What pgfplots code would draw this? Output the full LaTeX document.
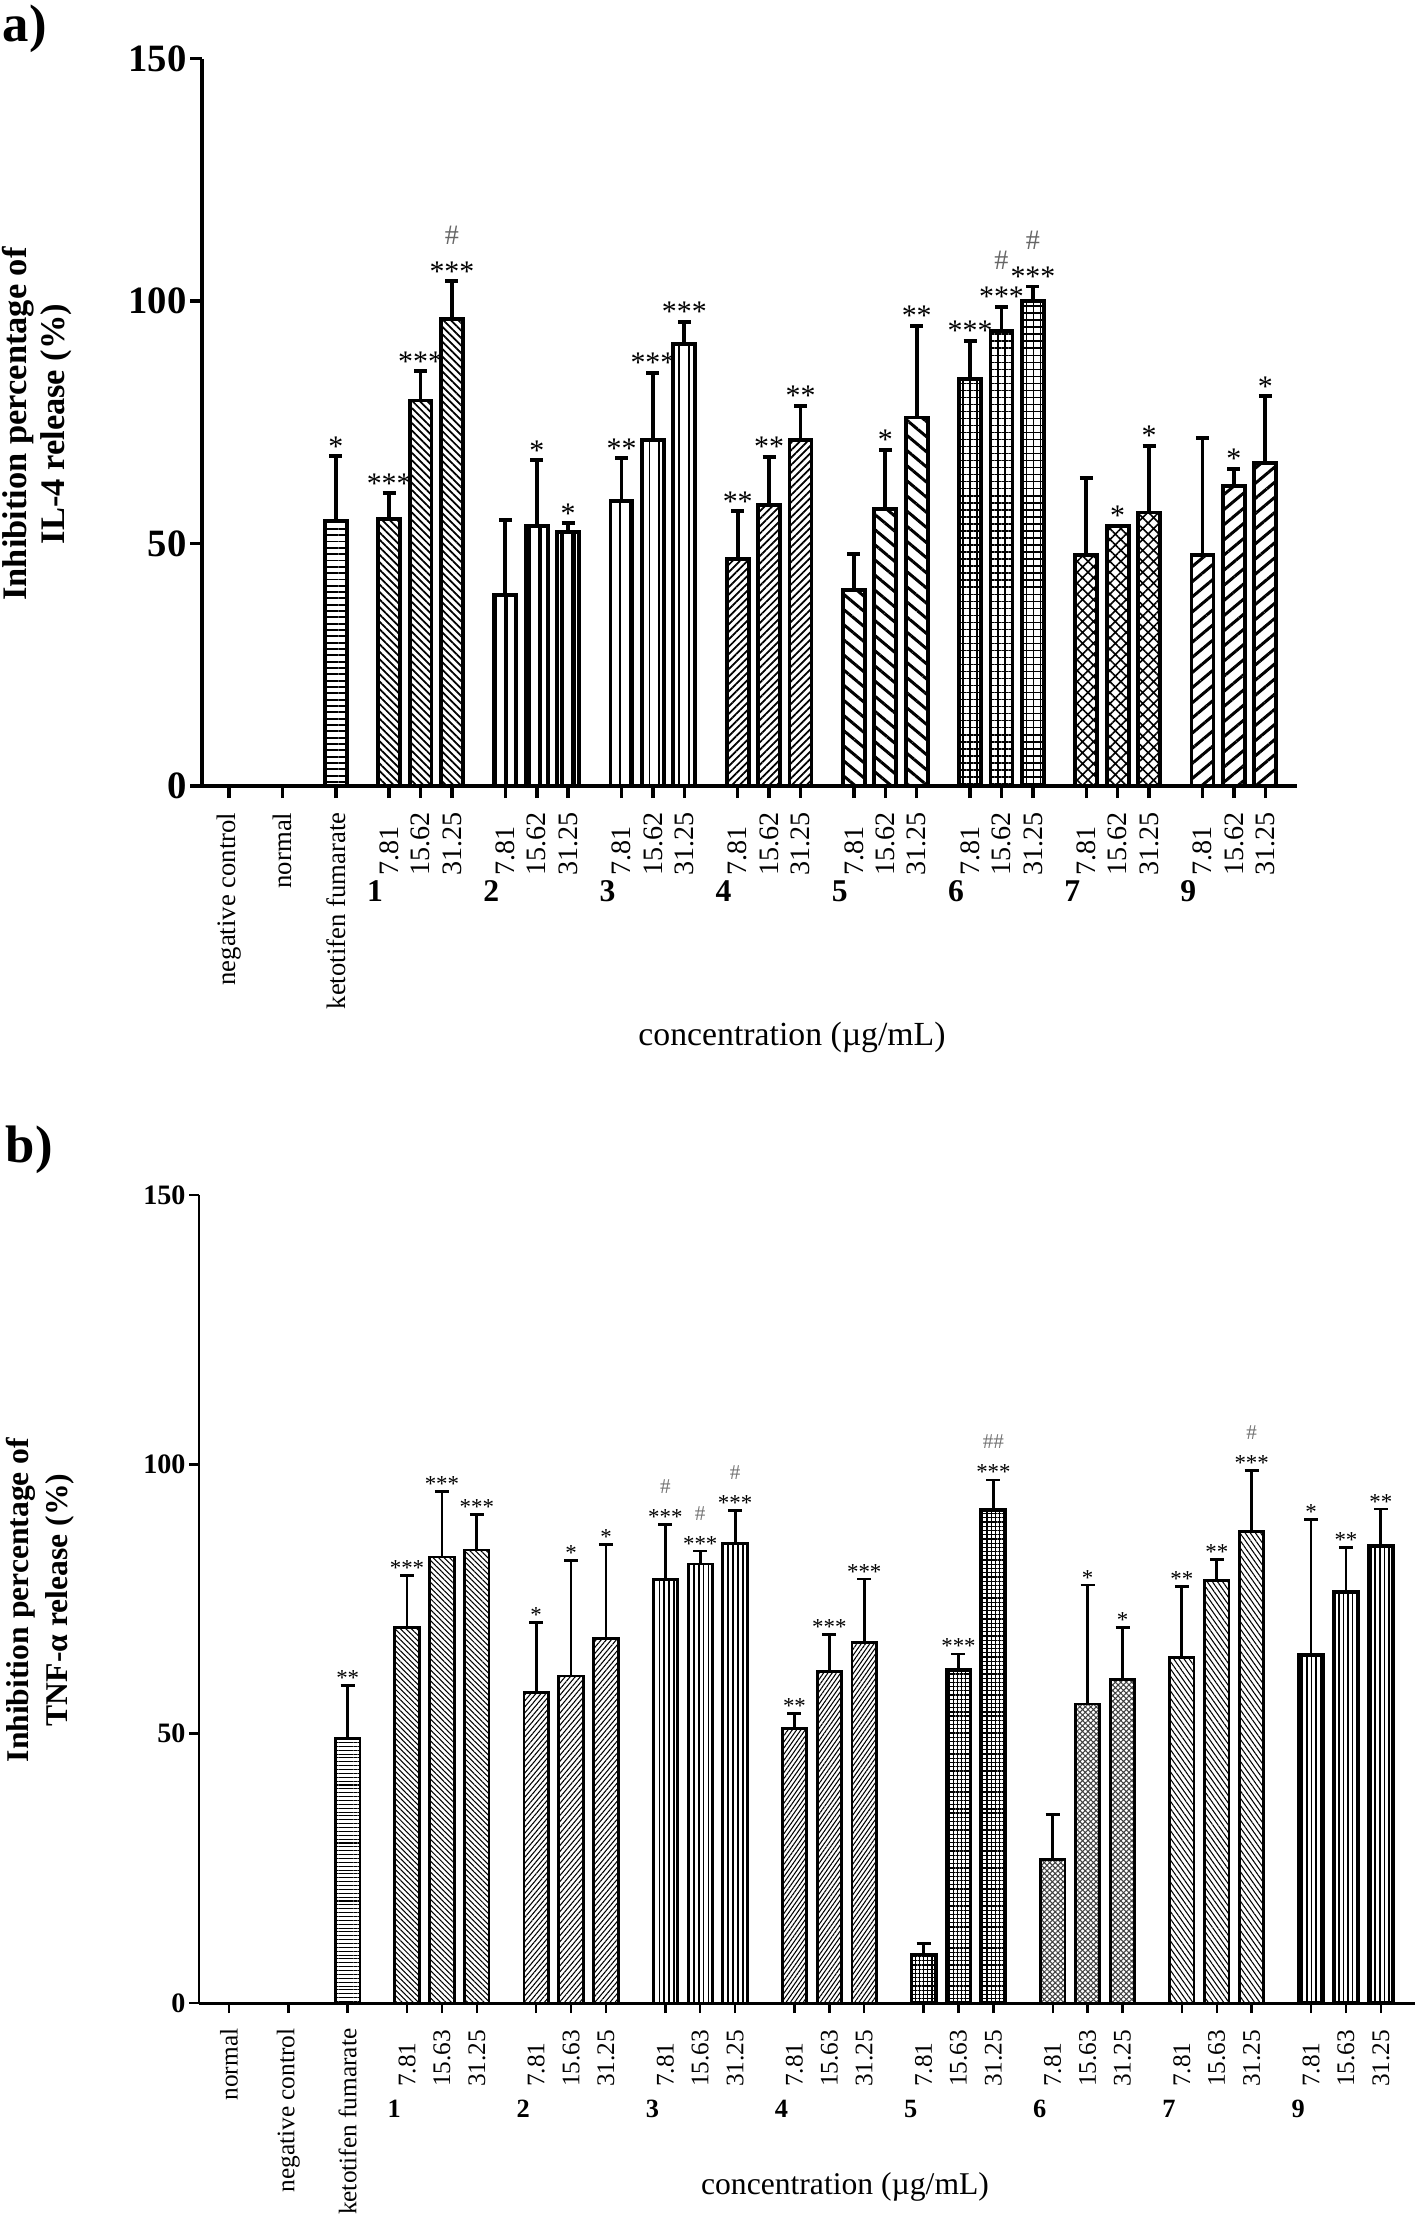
\documentclass[border=0pt]{standalone}
\usepackage{fontspec}
\setmainfont{Liberation Serif}
\usepackage{pgfplots}
\pgfplotsset{compat=1.18}
\usetikzlibrary{patterns.meta}
\newcommand{\fs}[1]{\fontsize{#1}{#1}\selectfont}
\newcommand{\na}[1]{\makebox[6.3mm][l]{\fs{8}#1}}
\newcommand{\nb}[1]{\makebox[5.8mm][l]{#1}}
\pgfplotsset{
  barA/.style={ybar, bar width=0.7, bar shift=0pt, draw=black, line width=1.1pt,
    error bars/y dir=plus, error bars/y explicit,
    error bars/error bar style={line width=1.1pt},
    error bars/error mark options={rotate=90, mark size=0.65mm, line width=1.1pt}},
  barB/.style={ybar, bar width=0.7, bar shift=0pt, draw=black, line width=0.8pt,
    error bars/y dir=plus, error bars/y explicit,
    error bars/error bar style={line width=0.8pt},
    error bars/error mark options={rotate=90, mark size=0.7mm, line width=0.8pt}},
  sigA/.style={draw=none, mark=none, forget plot, nodes near coords, point meta=explicit symbolic,
    nodes near coords style={anchor=base, inner sep=0pt, font=\fs{8.5}}},
  hashA/.style={sigA, nodes near coords style={yshift=3.7mm, text=black!60, font=\fs{8}}},
  sigB/.style={draw=none, mark=none, forget plot, nodes near coords, point meta=explicit symbolic,
    nodes near coords style={anchor=base, inner sep=0pt, font=\fs{6.5}}},
  hashB/.style={sigB, nodes near coords style={yshift=3.1mm, text=black!55, font=\fs{6}}},
}
\begin{document}
\begin{tikzpicture}
\useasboundingbox (0,0) rectangle (141.8mm,-221.8mm);
\node[anchor=base west, inner sep=0pt, font=\bfseries\fs{15}] at (0.2mm,-4.2mm) {a)};
\node[anchor=base west, inner sep=0pt, font=\bfseries\fs{15}] at (0.5mm,-116.2mm) {b)};
\node[rotate=90, align=center, font=\bfseries\fs{9.8}, inner sep=0pt] at (3.7mm,-42.4mm)
  {Inhibition percentage of\\[1.2pt]IL-4 release (\%)};
\node[rotate=90, align=center, font=\bfseries\fs{9}, inner sep=0pt] at (4.0mm,-160.0mm)
  {Inhibition percentage of\\[2.2pt]TNF-α release (\%)};
\node[font=\fs{9.6}, inner sep=0pt] at (79.2mm,-103.7mm) {concentration (µg/mL)};
\node[font=\fs{9}, inner sep=0pt] at (84.5mm,-218.7mm) {concentration (µg/mL)};

% ---------------- panel a ----------------
\begin{axis}[
  at={(20.2mm,-78.6mm)}, anchor=south west,
  scale only axis, width=109.5mm, height=72.74mm,
  xmin=-0.86, xmax=34.01, ymin=0, ymax=150, clip=false,
  axis x line*=bottom, axis y line*=left,
  axis line style={line width=1.4pt, -},
  tick align=outside, major tick length=1.2mm,
  tick style={line width=1pt, black},
  ytick={0,50,100,150},
  /pgf/number format/assume math mode=true,
  yticklabel style={font=\bfseries\fs{11}, inner sep=0.8pt},
  xtick={0,1.7,3.4,5.1,6.1,7.1,8.8,9.8,10.8,12.5,13.5,14.5,16.2,17.2,18.2,19.9,20.9,21.9,23.6,24.6,25.6,27.3,28.3,29.3,31.0,32.0,33.0},
  xticklabels={negative control,normal,ketotifen fumarate,
    \na{7.81},\na{15.62},\na{31.25},\na{7.81},\na{15.62},\na{31.25},
    \na{7.81},\na{15.62},\na{31.25},\na{7.81},\na{15.62},\na{31.25},
    \na{7.81},\na{15.62},\na{31.25},\na{7.81},\na{15.62},\na{31.25},
    \na{7.81},\na{15.62},\na{31.25},\na{7.81},\na{15.62},\na{31.25}},
  xticklabel style={rotate=90, anchor=east, inner sep=0pt, font=\fs{7.6}},
  xticklabel shift=1.4mm,
]
\addplot[barA, pattern={Lines[angle=0,distance=1.8pt,line width=0.55pt]}]
  coordinates {(3.4,54.6) +- (0,13.4)};
\addplot[barA, pattern={Lines[angle=-45,distance=1.5pt,line width=0.5pt]}]
  coordinates {(5.1,55.0) +- (0,5.4) (6.1,79.5) +- (0,6.0) (7.1,96.3) +- (0,7.8)};
\addplot[barA, pattern={Lines[angle=90,distance=3.2pt,line width=1.2pt]}]
  coordinates {(8.8,39.4) +- (0,15.4) (9.8,53.7) +- (0,13.5) (10.8,52.4) +- (0,1.8)};
\addplot[barA, pattern={Lines[angle=90,distance=2.8pt,line width=0.55pt]}]
  coordinates {(12.5,58.8) +- (0,8.8) (13.5,71.3) +- (0,13.9) (14.5,91.1) +- (0,4.6)};
\addplot[barA, pattern={Lines[angle=45,distance=1.5pt,line width=0.5pt]}]
  coordinates {(16.2,46.9) +- (0,9.8) (17.2,58.0) +- (0,9.9) (18.2,71.3) +- (0,7.1)};
\addplot[barA, pattern={Lines[angle=-40,distance=3.3pt,line width=0.85pt]}]
  coordinates {(19.9,40.4) +- (0,7.4) (20.9,57.2) +- (0,12.1) (21.9,76.0) +- (0,18.9)};
\addplot[barA, pattern={Hatch[angle=0,distance=2pt,line width=0.4pt]}]
  coordinates {(23.6,83.9) +- (0,7.9) (24.6,93.9) +- (0,4.9) (25.6,100.1) +- (0,2.9)};
\addplot[barA, pattern={Hatch[angle=45,distance=2.2pt,line width=0.45pt]}]
  coordinates {(27.3,47.6) +- (0,16.0) (28.3,53.7) +- (0,0) (29.3,56.4) +- (0,13.8)};
\addplot[barA, pattern={Lines[angle=40,distance=3.3pt,line width=0.85pt]}]
  coordinates {(31.0,47.6) +- (0,24.1) (32.0,61.8) +- (0,3.6) (33.0,66.6) +- (0,13.8)};
\addplot[sigA] coordinates {
  (3.4,68.0)[*] (5.1,60.4)[***] (6.1,85.5)[***] (7.1,104.1)[***]
  (9.8,67.2)[*] (10.8,54.2)[*]
  (12.5,67.6)[**] (13.5,85.2)[***] (14.5,95.7)[***]
  (16.2,56.7)[**] (17.2,67.9)[**] (18.2,78.4)[**]
  (20.9,69.3)[*] (21.9,94.9)[**]
  (23.6,91.8)[***] (24.6,98.8)[***] (25.6,103.0)[***]
  (28.3,53.7)[*] (29.3,70.2)[*]
  (32.0,65.4)[*] (33.0,80.4)[*]};
\addplot[hashA] coordinates {(7.1,104.1)[\#] (24.6,98.8)[\#] (25.6,103.0)[\#]};
\node[font=\bfseries\fs{9}] at (axis cs:4.65,0) [yshift=-10.5mm] {1};
\node[font=\bfseries\fs{9}] at (axis cs:8.35,0) [yshift=-10.5mm] {2};
\node[font=\bfseries\fs{9}] at (axis cs:12.05,0) [yshift=-10.5mm] {3};
\node[font=\bfseries\fs{9}] at (axis cs:15.75,0) [yshift=-10.5mm] {4};
\node[font=\bfseries\fs{9}] at (axis cs:19.45,0) [yshift=-10.5mm] {5};
\node[font=\bfseries\fs{9}] at (axis cs:23.15,0) [yshift=-10.5mm] {6};
\node[font=\bfseries\fs{9}] at (axis cs:26.85,0) [yshift=-10.5mm] {7};
\node[font=\bfseries\fs{9}] at (axis cs:30.55,0) [yshift=-10.5mm] {9};
\end{axis}

% ---------------- panel b ----------------
\begin{axis}[
  at={(19.9mm,-200.3mm)}, anchor=south west,
  scale only axis, width=121.6mm, height=80.8mm,
  xmin=-0.86, xmax=33.98, ymin=0, ymax=150, clip=false,
  axis x line*=bottom, axis y line*=left,
  axis line style={line width=0.85pt, -},
  tick align=outside, major tick length=1.0mm,
  tick style={line width=0.7pt, black},
  ytick={0,50,100,150},
  /pgf/number format/assume math mode=true,
  yticklabel style={font=\bfseries\fs{8}, inner sep=0.8pt},
  xtick={0,1.7,3.4,5.1,6.1,7.1,8.8,9.8,10.8,12.5,13.5,14.5,16.2,17.2,18.2,19.9,20.9,21.9,23.6,24.6,25.6,27.3,28.3,29.3,31.0,32.0,33.0},
  xticklabels={normal,negative control,ketotifen fumarate,
    \nb{7.81},\nb{15.63},\nb{31.25},\nb{7.81},\nb{15.63},\nb{31.25},
    \nb{7.81},\nb{15.63},\nb{31.25},\nb{7.81},\nb{15.63},\nb{31.25},
    \nb{7.81},\nb{15.63},\nb{31.25},\nb{7.81},\nb{15.63},\nb{31.25},
    \nb{7.81},\nb{15.63},\nb{31.25},\nb{7.81},\nb{15.63},\nb{31.25}},
  xticklabel style={rotate=90, anchor=east, inner sep=0pt, font=\fs{7.2}},
  xticklabel shift=1.5mm,
]
\addplot[barB, line width=0.6pt, pattern={Lines[angle=0,distance=1.1pt,line width=0.3pt]}]
  coordinates {(3.4,49.1) +- (0,9.9)};
\addplot[barB, pattern={Lines[angle=-45,distance=1.1pt,line width=0.3pt]}]
  coordinates {(5.1,69.7) +- (0,9.6) (6.1,82.8) +- (0,12.1) (7.1,84.1) +- (0,6.6)};
\addplot[barB, pattern={Lines[angle=50,distance=1.1pt,line width=0.3pt]}]
  coordinates {(8.8,57.7) +- (0,13.0) (9.8,60.7) +- (0,21.5) (10.8,67.6) +- (0,17.5)};
\addplot[barB, pattern={Lines[angle=90,distance=1.4pt,line width=0.45pt]}]
  coordinates {(12.5,78.6) +- (0,10.2) (13.5,81.5) +- (0,2.4) (14.5,85.3) +- (0,6.1)};
\addplot[barB, pattern={Lines[angle=55,distance=1.0pt,line width=0.3pt]}]
  coordinates {(16.2,51.0) +- (0,2.7) (17.2,61.5) +- (0,6.9) (18.2,67.0) +- (0,11.7)};
\addplot[barB, line width=1.0pt, pattern={Hatch[angle=0,distance=1.2pt,line width=0.35pt]}]
  coordinates {(19.9,9.0) +- (0,2.1) (20.9,61.8) +- (0,3.0) (21.9,91.5) +- (0,5.6)};
\addplot[barB, pattern color=black!75, pattern={Hatch[angle=45,distance=1.1pt,line width=0.3pt]}]
  coordinates {(23.6,26.6) +- (0,8.4) (24.6,55.5) +- (0,22.1) (25.6,60.1) +- (0,9.6)};
\addplot[barB, pattern={Lines[angle=-55,distance=1.2pt,line width=0.3pt]}]
  coordinates {(27.3,64.1) +- (0,13.2) (28.3,78.4) +- (0,4.0) (29.3,87.6) +- (0,11.3)};
\addplot[barB, line width=1.2pt, pattern={Lines[angle=90,distance=1.3pt,line width=0.45pt]}]
  coordinates {(31.0,64.6) +- (0,25.2) (32.0,76.3) +- (0,8.2) (33.0,84.8) +- (0,6.9)};
\addplot[sigB] coordinates {
  (3.4,59.0)[**] (5.1,79.3)[***] (6.1,94.9)[***] (7.1,90.7)[***]
  (8.8,70.7)[*] (9.8,82.2)[*] (10.8,85.1)[*]
  (12.5,88.8)[***] (13.5,83.9)[***] (14.5,91.4)[***]
  (16.2,53.7)[**] (17.2,68.4)[***] (18.2,78.7)[***]
  (20.9,64.8)[***] (21.9,97.1)[***]
  (24.6,77.6)[*] (25.6,69.7)[*]
  (27.3,77.3)[**] (28.3,82.4)[**] (29.3,98.9)[***]
  (31.0,89.8)[*] (32.0,84.5)[**] (33.0,91.7)[**]};
\addplot[hashB] coordinates {(12.5,88.8)[\#] (13.5,83.9)[\#] (14.5,91.4)[\#] (21.9,97.1)[\#\#] (29.3,98.9)[\#]};
\node[font=\bfseries\fs{7.5}] at (axis cs:4.73,0) [yshift=-10.6mm] {1};
\node[font=\bfseries\fs{7.5}] at (axis cs:8.43,0) [yshift=-10.6mm] {2};
\node[font=\bfseries\fs{7.5}] at (axis cs:12.13,0) [yshift=-10.6mm] {3};
\node[font=\bfseries\fs{7.5}] at (axis cs:15.83,0) [yshift=-10.6mm] {4};
\node[font=\bfseries\fs{7.5}] at (axis cs:19.53,0) [yshift=-10.6mm] {5};
\node[font=\bfseries\fs{7.5}] at (axis cs:23.23,0) [yshift=-10.6mm] {6};
\node[font=\bfseries\fs{7.5}] at (axis cs:26.93,0) [yshift=-10.6mm] {7};
\node[font=\bfseries\fs{7.5}] at (axis cs:30.63,0) [yshift=-10.6mm] {9};
\end{axis}
\end{tikzpicture}
\end{document}
